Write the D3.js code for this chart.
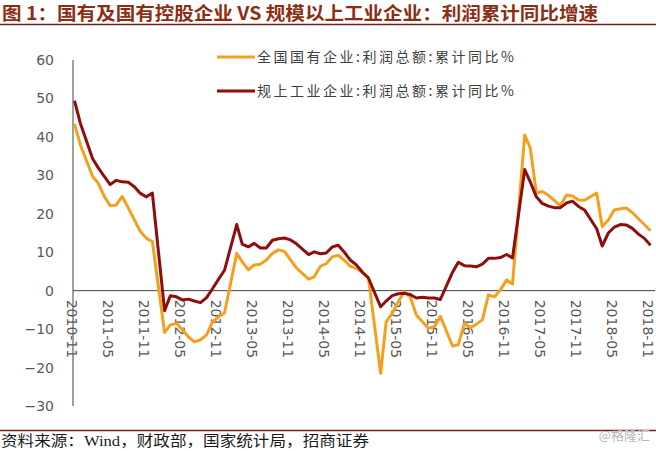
<!DOCTYPE html>
<html>
<head>
<meta charset="utf-8">
<title>利润累计同比增速</title>
<script src="https://cdn.jsdelivr.net/npm/d3@7"></script>
<style>
  body { margin: 0; background: #fff; }
  svg  { display: block; }
</style>
</head>
<body>
<script>

// months (no January figures: Jan-Feb are reported together)
var months = [
  "2010-11","2010-12",
  "2011-02","2011-03","2011-04","2011-05","2011-06","2011-07","2011-08","2011-09","2011-10","2011-11","2011-12",
  "2012-02","2012-03","2012-04","2012-05","2012-06","2012-07","2012-08","2012-09","2012-10","2012-11","2012-12",
  "2013-02","2013-03","2013-04","2013-05","2013-06","2013-07","2013-08","2013-09","2013-10","2013-11","2013-12",
  "2014-02","2014-03","2014-04","2014-05","2014-06","2014-07","2014-08","2014-09","2014-10","2014-11","2014-12",
  "2015-02","2015-03","2015-04","2015-05","2015-06","2015-07","2015-08","2015-09","2015-10","2015-11","2015-12",
  "2016-02","2016-03","2016-04","2016-05","2016-06","2016-07","2016-08","2016-09","2016-10","2016-11","2016-12",
  "2017-02","2017-03","2017-04","2017-05","2017-06","2017-07","2017-08","2017-09","2017-10","2017-11","2017-12",
  "2018-02","2018-03","2018-04","2018-05","2018-06","2018-07","2018-08","2018-09","2018-10","2018-11"
];

// 全国国有企业:利润总额:累计同比%
var soe = [
  43.4, 37.9,
  29.7, 28.0, 24.5, 22.1, 22.3, 24.5, 21.5, 18.4, 15.4, 13.6, 12.8,
  -10.9, -8.9, -8.5, -10.2, -12.0, -13.3, -12.8, -11.5, -8.1, -6.8, -5.8,
  9.7, 7.5, 5.4, 6.7, 6.9, 8.0, 9.7, 10.6, 10.2, 8.0, 5.9,
  3.0, 3.6, 6.3, 7.0, 8.8, 9.2, 7.9, 6.3, 5.8, 4.7, 3.4,
  -21.5, -8.1, -5.9, -2.9, -0.3, -1.6, -6.3, -8.1, -9.8, -9.4, -6.7,
  -14.4, -14.1, -8.5, -9.6, -8.7, -7.6, -1.1, -1.6, 0.2, 2.8, 1.7,
  40.5, 37.1, 25.4, 25.8, 24.8, 23.5, 22.1, 24.9, 24.6, 23.6, 23.5,
  25.4, 16.7, 18.4, 21.0, 21.3, 21.5, 20.3, 18.7, 17.2, 15.6
];

// 规上工业企业:利润总额:累计同比%
var ind = [
  49.4, 43.5,
  34.3, 32.0, 29.7, 27.6, 28.7, 28.3, 28.2, 27.0, 25.3, 24.4, 25.4,
  -5.2, -1.3, -1.6, -2.4, -2.2, -2.7, -3.1, -1.8, 0.5, 3.0, 5.3,
  17.2, 12.1, 11.4, 12.3, 11.1, 11.1, 13.1, 13.5, 13.7, 13.2, 12.2,
  9.4, 10.1, 9.6, 9.8, 11.4, 11.8, 10.0, 7.9, 6.7, 4.8, 3.3,
  -4.2, -2.7, -1.3, -0.8, -0.7, -1.0, -1.9, -1.7, -1.9, -1.9, -2.3,
  4.8, 7.4, 6.5, 6.4, 6.2, 6.9, 8.4, 8.4, 8.6, 9.4, 8.5,
  31.5, 28.3, 24.4, 22.7, 22.0, 21.6, 21.6, 22.8, 23.3, 21.9, 21.0,
  16.1, 11.6, 15.0, 16.5, 17.2, 17.1, 16.2, 14.7, 13.6, 11.8
];

var xTicks = ["2010-11","2011-05","2011-11","2012-05","2012-11","2013-05","2013-11","2014-05",
              "2014-11","2015-05","2015-11","2016-05","2016-11","2017-05","2017-11","2018-05","2018-11"];
var yTicks = [-30, -20, -10, 0, 10, 20, 30, 40, 50, 60];

var seriesNames = ["全国国有企业:利润总额:累计同比%", "规上工业企业:利润总额:累计同比%"];
var seriesColors = ["#F5A01D", "#8E0E0E"];

var titleText = "图 1：国有及国有控股企业 VS 规模以上工业企业：利润累计同比增速";
var sourceText = "资料来源：Wind，财政部，国家统计局，招商证券";

var W = 656, H = 451;
var parse = d3.timeParse("%Y-%m");

var svg = d3.select("body").append("svg")
    .attr("width", W)
    .attr("height", H);

// title + rule
svg.append("text")
    .attr("x", 2)
    .attr("y", 20)
    .attr("textLength", 596)
    .attr("lengthAdjust", "spacingAndGlyphs")
    .style("font-family", "'Noto Sans CJK SC', sans-serif")
    .style("font-weight", "bold")
    .style("font-size", "18px")
    .style("fill", "#8B2E14")
    .text(titleText);

svg.append("line")
    .attr("x1", 0).attr("x2", W)
    .attr("y1", 24.5).attr("y2", 24.5)
    .style("stroke", "#7A1A1A")
    .style("stroke-width", 1.5);

// scales
var x = d3.scaleTime()
    .domain([parse("2010-11"), parse("2018-11")])
    .range([74.5, 650.5]);

var y = d3.scaleLinear()
    .domain([-30, 60])
    .range([406, 60]);

var axisX = 73;

// y axis
var yAxis = d3.axisLeft(y)
    .tickValues(yTicks)
    .tickSize(0)
    .tickPadding(19);

var gy = svg.append("g")
    .attr("transform", "translate(" + axisX + ",0)")
    .call(yAxis);
gy.select(".domain").remove();
gy.selectAll("text")
    .style("font-family", "'DejaVu Sans', sans-serif")
    .style("font-size", "14px")
    .style("fill", "#595959");

svg.append("line")
    .attr("x1", axisX).attr("x2", axisX)
    .attr("y1", y(60)).attr("y2", y(-30))
    .style("stroke", "#404040")
    .style("stroke-width", 1);

// zero line
svg.append("line")
    .attr("x1", axisX).attr("x2", 655)
    .attr("y1", y(0)).attr("y2", y(0))
    .style("stroke", "#404040")
    .style("stroke-width", 1);

// x labels, rotated to read downwards
svg.selectAll(".xlab")
    .data(xTicks)
  .enter().append("text")
    .attr("class", "xlab")
    .attr("transform", function(d) { return "translate(" + (x(parse(d)) - 2.5) + "," + (y(0) + 9) + ") rotate(90)"; })
    .attr("text-anchor", "start")
    .attr("dominant-baseline", "central")
    .style("font-family", "'DejaVu Sans', sans-serif")
    .style("font-size", "14px")
    .style("fill", "#595959")
    .text(function(d) { return d; });

// lines
var rows = months.map(function(m, i) { return { date: parse(m), soe: soe[i], ind: ind[i] }; });

var lineSoe = d3.line()
    .x(function(d) { return x(d.date); })
    .y(function(d) { return y(d.soe); });

var lineInd = d3.line()
    .x(function(d) { return x(d.date); })
    .y(function(d) { return y(d.ind); });

svg.append("path")
    .datum(rows)
    .attr("d", lineSoe)
    .style("fill", "none")
    .style("stroke", seriesColors[0])
    .style("stroke-width", 3)
    .style("stroke-linejoin", "round");

svg.append("path")
    .datum(rows)
    .attr("d", lineInd)
    .style("fill", "none")
    .style("stroke", seriesColors[1])
    .style("stroke-width", 3)
    .style("stroke-linejoin", "round");

// legend
var legend = svg.selectAll(".leg")
    .data(seriesNames)
  .enter().append("g")
    .attr("class", "leg")
    .attr("transform", function(d, i) { return "translate(217," + (57 + i * 34) + ")"; });

legend.append("line")
    .attr("x1", 0).attr("x2", 38)
    .attr("y1", 0).attr("y2", 0)
    .style("stroke", function(d, i) { return seriesColors[i]; })
    .style("stroke-width", 3);

legend.append("text")
    .attr("x", 40)
    .attr("y", 5)
    .attr("textLength", 257)
    .attr("lengthAdjust", "spacing")
    .style("font-family", "'Noto Sans CJK SC', sans-serif")
    .style("font-size", "14px")
    .style("fill", "#404040")
    .text(function(d) { return d; });

// footer
svg.append("line")
    .attr("x1", 0).attr("x2", W)
    .attr("y1", 430.5).attr("y2", 430.5)
    .style("stroke", "#7A1A1A")
    .style("stroke-width", 1.5);

svg.append("text")
    .attr("x", 1)
    .attr("y", 446)
    .attr("textLength", 368)
    .attr("lengthAdjust", "spacingAndGlyphs")
    .style("font-family", "'Liberation Serif', 'Noto Sans CJK SC', serif")
    .style("font-size", "15px")
    .style("fill", "#1a1a1a")
    .text(sourceText);

svg.append("text")
    .attr("x", 650)
    .attr("y", 440)
    .attr("text-anchor", "end")
    .style("font-family", "'Noto Sans CJK SC', sans-serif")
    .style("font-size", "13px")
    .style("fill", "#b8b8b8")
    .text("@格隆汇");

</script>
</body>
</html>
